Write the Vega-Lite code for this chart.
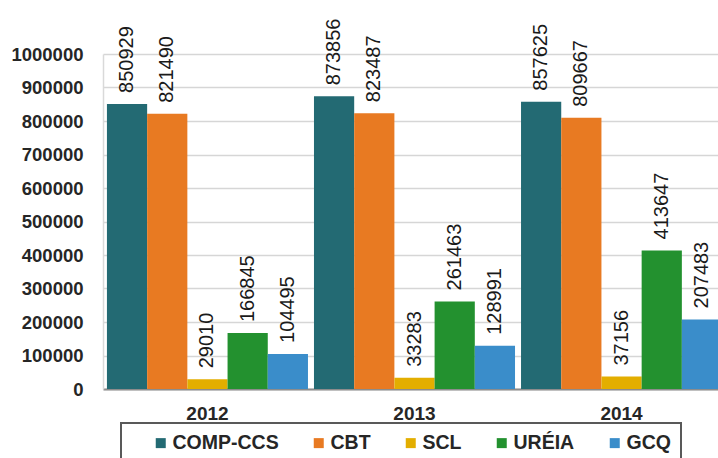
{
  "$schema": "https://vega.github.io/schema/vega-lite/v6.json",
  "width": 623,
  "height": 335,
  "autosize": {"type": "none"},
  "padding": {"left": 103, "top": 54, "right": -8, "bottom": 69},
  "background": "white",
  "data": {
    "values": [
      {"year": "2012", "series": "COMP-CCS", "value": 850929},
      {"year": "2012", "series": "CBT", "value": 821490},
      {"year": "2012", "series": "SCL", "value": 29010},
      {"year": "2012", "series": "URÉIA", "value": 166845},
      {"year": "2012", "series": "GCQ", "value": 104495},
      {"year": "2013", "series": "COMP-CCS", "value": 873856},
      {"year": "2013", "series": "CBT", "value": 823487},
      {"year": "2013", "series": "SCL", "value": 33283},
      {"year": "2013", "series": "URÉIA", "value": 261463},
      {"year": "2013", "series": "GCQ", "value": 128991},
      {"year": "2014", "series": "COMP-CCS", "value": 857625},
      {"year": "2014", "series": "CBT", "value": 809667},
      {"year": "2014", "series": "SCL", "value": 37156},
      {"year": "2014", "series": "URÉIA", "value": 413647},
      {"year": "2014", "series": "GCQ", "value": 207483}
    ]
  },
  "encoding": {
    "x": {
      "field": "year",
      "type": "nominal",
      "scale": {"paddingInner": 0.029, "paddingOuter": 0.019},
      "axis": {
        "title": null,
        "labelAngle": 0,
        "labelFont": "Liberation Sans",
        "labelFontWeight": "bold",
        "labelFontSize": 19,
        "labelColor": "#262626",
        "labelPadding": 15,
        "ticks": false,
        "domainColor": "#8C8C8C",
        "domainWidth": 2,
        "grid": false
      }
    },
    "xOffset": {
      "field": "series",
      "type": "nominal",
      "scale": {"domain": ["COMP-CCS", "CBT", "SCL", "URÉIA", "GCQ"], "paddingInner": 0, "paddingOuter": 0}
    },
    "y": {
      "field": "value",
      "type": "quantitative",
      "scale": {"domain": [0, 1000000], "nice": false},
      "axis": {
        "title": null,
        "format": "d",
        "values": [0, 100000, 200000, 300000, 400000, 500000, 600000, 700000, 800000, 900000, 1000000],
        "labelFont": "Liberation Sans",
        "labelFontWeight": "bold",
        "labelFontSize": 18.5,
        "labelColor": "#262626",
        "labelPadding": 20,
        "ticks": false,
        "domainColor": "#D9D9D9",
        "domainWidth": 1.5,
        "gridColor": "#D6D6D6",
        "gridWidth": 1.5
      }
    }
  },
  "layer": [
    {
      "mark": {"type": "bar"},
      "encoding": {
        "color": {
          "field": "series",
          "type": "nominal",
          "scale": {
            "domain": ["COMP-CCS", "CBT", "SCL", "URÉIA", "GCQ"],
            "range": ["#236A73", "#E87A22", "#E3AE00", "#23912F", "#3A8DCA"]
          },
          "legend": {
            "orient": "none",
            "legendX": 18,
            "legendY": 369,
            "direction": "horizontal",
            "columns": 5,
            "title": "\u00a0",
            "titleOrient": "left",
            "titlePadding": 20,
            "titleFontSize": 19,
            "symbolType": "square",
            "symbolSize": 100,
            "symbolStrokeWidth": 0,
            "labelOffset": 2,
            "columnPadding": 30,
            "labelFont": "Liberation Sans",
            "labelFontWeight": "bold",
            "labelFontSize": 19.5,
            "labelColor": "#262626",
            "padding": 10,
            "strokeColor": "#595959"
          }
        }
      }
    },
    {
      "mark": {
        "type": "text",
        "angle": 270,
        "align": "left",
        "baseline": "middle",
        "dx": 11,
        "font": "Liberation Sans",
        "fontSize": 20,
        "color": "#1A1A1A"
      },
      "encoding": {
        "text": {"field": "value", "type": "quantitative", "format": "d"}
      }
    }
  ],
  "config": {
    "view": {"stroke": null},
    "legend": {"strokeWidth": 2}
  }
}
